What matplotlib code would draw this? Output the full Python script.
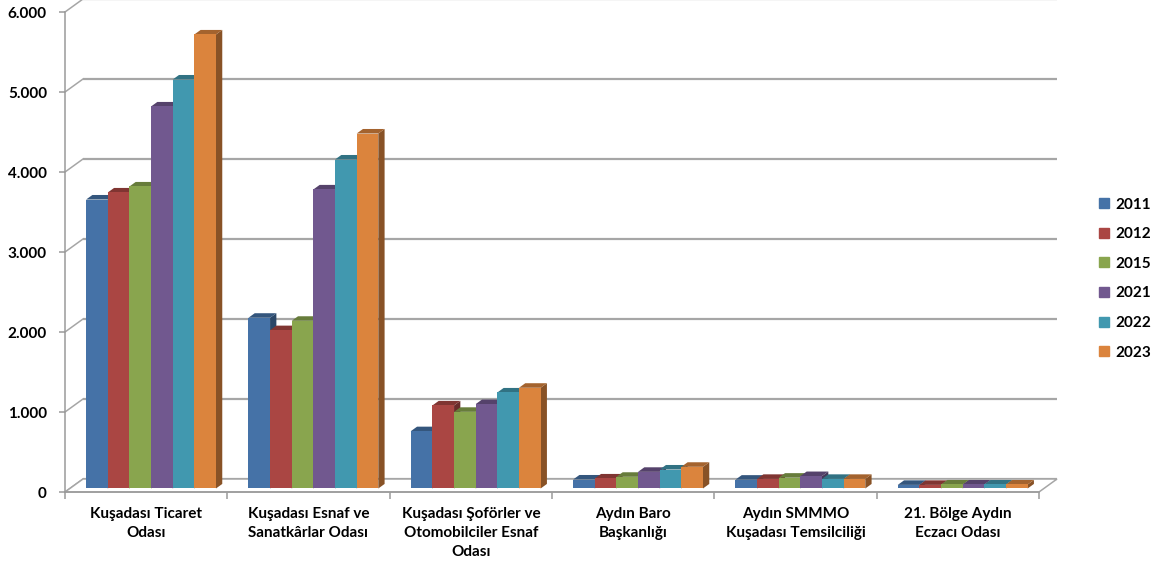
import matplotlib
matplotlib.use("Agg")
import matplotlib.pyplot as plt
from matplotlib.patches import Polygon
from matplotlib.lines import Line2D
from matplotlib.ticker import FuncFormatter, FixedLocator
import numpy as np

plt.rcParams['font.family'] = ['Lato', 'DejaVu Sans']
plt.rcParams['font.weight'] = 'bold'

categories = [
    "Kuşadası Ticaret\nOdası",
    "Kuşadası Esnaf ve\nSanatkârlar Odası",
    "Kuşadası Şoförler ve\nOtomobilciler Esnaf\nOdası",
    "Aydın Baro\nBaşkanlığı",
    "Aydın SMMMO\nKuşadası Temsilciliği",
    "21. Bölge Aydın\nEczacı Odası",
]
years = ["2011", "2012", "2015", "2021", "2022", "2023"]
v2011 = [3612, 2134, 716, 112, 110, 45]
v2012 = [3700, 1979, 1038, 125, 120, 45]
v2015 = [3775, 2096, 958, 146, 135, 50]
v2021 = [4775, 3738, 1055, 208, 155, 50]
v2022 = [5112, 4112, 1200, 237, 120, 50]
v2023 = [5675, 4437, 1259, 271, 120, 50]
series = [v2011, v2012, v2015, v2021, v2022, v2023]
colors = ["#4572A7", "#AA4643", "#89A54E", "#71588F", "#4198AF", "#DB843D"]

ymax = 6000
W, H = 1174, 574
fig = plt.figure(figsize=(W / 100, H / 100), dpi=100)
# front plane of the plot area in pixels
x0, x1 = 65, 1039
y0, y1 = 492, 12
ax = fig.add_axes([x0 / W, 1 - y0 / H, (x1 - x0) / W, (y0 - y1) / H])
n = len(categories)
ax.set_xlim(0, n)
ax.set_ylim(0, ymax)

# depth offset of the 3D box, in data units
px_x = n / (x1 - x0)
px_y = ymax / (y0 - y1)
DX, DY = 18 * px_x, 13 * px_y

grid_c = "#a6a6a6"
# back wall gridlines + left wall diagonals
for v in range(0, ymax + 1, 1000):
    ax.plot([DX, n + DX], [v + DY, v + DY], color=grid_c, lw=1.6,
            clip_on=False, zorder=1, solid_capstyle="butt")
    ax.plot([0, DX], [v, v + DY], color=grid_c, lw=1.1, clip_on=False, zorder=1)

# floor
floor = Polygon([(0, 0), (n, 0), (n + DX, DY), (DX, DY)], closed=True,
                facecolor="white", edgecolor=grid_c, lw=1.1, clip_on=False, zorder=2)
ax.add_patch(floor)


def shade(c, f):
    r, g, b = matplotlib.colors.to_rgb(c)
    return (r * f, g * f, b * f)


# bars
gap = 1.5
bw = 1 / (len(series) + gap)
f0, f1 = 0.27, 0.62
for ci in range(n):
    for si, vals in enumerate(series):
        v = vals[ci]
        xl = ci + gap * bw / 2 + si * bw + f0 * DX
        xr = xl + bw
        yb = f0 * DY
        yt = yb + v
        ddx, ddy = (f1 - f0) * DX, (f1 - f0) * DY
        c = colors[si]
        front = Polygon([(xl, yb), (xr, yb), (xr, yt), (xl, yt)],
                        facecolor=c, edgecolor="none", clip_on=False, zorder=3)
        side = Polygon([(xr, yb), (xr + ddx, yb + ddy), (xr + ddx, yt + ddy), (xr, yt)],
                       facecolor=shade(c, 0.62), edgecolor="none", clip_on=False, zorder=3)
        top = Polygon([(xl, yt), (xr, yt), (xr + ddx, yt + ddy), (xl + ddx, yt + ddy)],
                      facecolor=shade(c, 0.75), edgecolor="none", clip_on=False, zorder=3)
        for p in (side, top, front):
            ax.add_patch(p)

# axes
for s in ("top", "right"):
    ax.spines[s].set_visible(False)
for s in ("left", "bottom"):
    ax.spines[s].set_color("#9a9a9a")
    ax.spines[s].set_linewidth(1.1)
    ax.spines[s].set_zorder(4)
ax.patch.set_alpha(0)

fs = 11
ax.yaxis.set_major_locator(FixedLocator(range(0, ymax + 1, 1000)))
ax.yaxis.set_major_formatter(FuncFormatter(lambda v, p: f"{v:,.0f}".replace(",", ".")))
ax.tick_params(axis="y", length=4, width=1.1, color="#9a9a9a", pad=9, labelsize=fs)

ax.xaxis.set_major_locator(FixedLocator(range(n + 1)))
ax.xaxis.set_major_formatter(FuncFormatter(lambda v, p: ""))
ax.xaxis.set_minor_locator(FixedLocator(np.arange(n) + 0.5))
ax.set_xticklabels(categories, minor=True)
ax.tick_params(axis="x", which="major", length=5, width=1.1, color="#9a9a9a")
ax.tick_params(axis="x", which="minor", length=0, pad=11, labelsize=fs)
for t in ax.get_yticklabels() + ax.get_xticklabels(minor=True):
    t.set_fontweight("bold")
    t.set_linespacing(1.42)

handles = [Line2D([], [], marker="s", ls="none", markersize=6.5,
                  markerfacecolor=c, markeredgecolor=c) for c in colors]
fig.legend(handles, years, loc="upper left", bbox_to_anchor=(1092 / W, 1 - 190 / H),
           frameon=False, handlelength=0.6, handletextpad=0.45, labelspacing=1.02,
           prop={"weight": "bold", "size": fs}, borderpad=0)

fig.savefig("out.png", dpi=100)
